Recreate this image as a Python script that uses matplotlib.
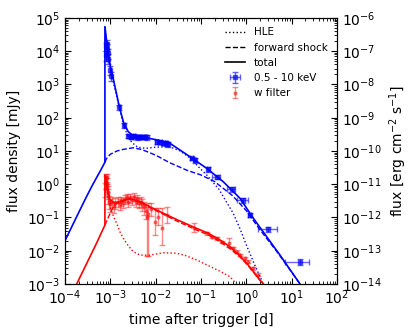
import matplotlib
matplotlib.use("Agg")
import matplotlib.pyplot as plt

# model curves, X-ray (blue)
xt_total = [1e-4, 2e-4, 3e-4, 4e-4, 5e-4, 6e-4, 7.6e-4, 7.6e-4, 8.5e-4, 1e-3, 1.16e-3, 1.58e-3, 2e-3,
            2.49e-3, 3e-3, 4.52e-3, 1e-2, 2.07e-2, 5.73e-2, 0.134, 0.31, 0.727, 1.43, 5.53, 15.3, 20]
xf_total = [0.02, 0.14, 0.43, 0.92, 1.6, 2.5, 4.6, 5.5e4, 1.5e4, 3500, 1500, 215, 65,
            38, 31, 27, 22, 17, 6.7, 3.0, 1.19, 0.378, 0.0946, 0.0074, 1e-3, 5.5e-4]
xt_fs = [7.6e-4, 8.3e-4, 1e-3, 1.4e-3, 1.94e-3, 3.2e-3, 5e-3, 1e-2, 2e-2, 5e-2, 0.1, 0.2, 0.5, 1, 2, 5, 15.3, 20]
xf_fs = [4.6, 6.0, 8.0, 10, 11.2, 12.5, 11, 7.5, 4.5, 2.6, 1.9, 1.2, 0.45, 0.16, 0.043, 0.0085, 1e-3, 6e-4]
xt_hle = [7.6e-4, 8.5e-4, 1e-3, 1.2e-3, 1.6e-3, 2e-3, 2.5e-3, 3e-3, 4e-3, 6e-3, 1e-2, 2e-2, 3.5e-2,
          5.7e-2, 0.1, 0.134, 0.25, 0.51, 0.73, 1.0, 1.5, 2.37, 2.6]
xf_hle = [5.5e4, 1.5e4, 3000, 1000, 190, 55, 26, 18, 13, 12, 13, 13.5, 10,
          6.2, 2.8, 1.9, 0.7, 0.136, 0.045, 0.015, 0.004, 1e-3, 7e-4]

# model curves, optical (red)
ot_total = [1.5e-4, 1.81e-4, 3e-4, 5e-4, 7.6e-4, 7.6e-4, 8.5e-4, 9.8e-4, 1.2e-3, 1.5e-3, 2e-3, 2.7e-3,
            4e-3, 5.3e-3, 8e-3, 1.48e-2, 3e-2, 8e-2, 0.145, 0.25, 0.436, 0.7, 1.02, 1.5, 2, 2.37, 2.6]
of_total = [5.9e-4, 1e-3, 4.1e-3, 0.0172, 0.059, 1.9, 0.8, 0.34, 0.28, 0.29, 0.33, 0.37,
            0.32, 0.27, 0.2, 0.134, 0.085, 0.047, 0.0335, 0.022, 0.0132, 0.0073, 0.0042, 0.0022, 0.0013, 1e-3, 7e-4]
ot_fs = [7.6e-4, 9e-4, 1.05e-3, 1.27e-3, 1.6e-3, 2e-3, 2.7e-3, 5.3e-3, 8e-3, 1.48e-2, 3e-2, 8e-2,
         0.145, 0.25, 0.436, 0.7, 1.02, 1.5, 2, 2.37, 2.6]
of_fs = [0.059, 0.1, 0.16, 0.25, 0.29, 0.31, 0.36, 0.26, 0.19, 0.125, 0.077, 0.042,
         0.030, 0.0195, 0.0115, 0.0068, 0.004, 0.0021, 0.0013, 1e-3, 7e-4]
ot_hle = [7.6e-4, 8.5e-4, 9.8e-4, 1.2e-3, 1.38e-3, 1.63e-3, 2e-3, 2.5e-3, 3.2e-3, 4.5e-3, 7.5e-3,
          1.5e-2, 2.9e-2, 4.5e-2, 8e-2, 0.15, 0.25, 0.436, 0.61, 0.7]
of_hle = [1.9, 0.7, 0.21, 0.1, 0.067, 0.037, 0.022, 0.014, 0.0094, 0.0074, 0.0074,
          0.0087, 0.0084, 0.0072, 0.0053, 0.0035, 0.0025, 0.00166, 0.001, 8e-4]

# XRT data 0.5 - 10 keV
xrt_t = [8.0e-4, 8.2e-4, 8.4e-4, 8.6e-4, 8.8e-4, 9.0e-4, 9.8e-4, 1.03e-3, 1.58e-3, 2.0e-3, 2.5e-3, 2.9e-3,
         3.3e-3, 3.8e-3, 4.4e-3, 4.9e-3, 5.6e-3, 6.3e-3, 1.05e-2, 1.25e-2, 1.47e-2, 1.7e-2, 1.9e-2,
         6.2e-2, 7.3e-2, 0.145, 0.222, 0.475, 0.858, 1.2, 3.05, 15.3]
xrt_f = [7700, 14000, 17000, 12000, 9000, 6000, 2730, 1800, 206, 60, 28, 27,
         28, 26, 27, 27, 27, 26, 19, 19, 18, 17, 16,
         6.0, 5.3, 2.8, 1.69, 0.70, 0.336, 0.12, 0.045, 0.0047]
xrt_ferr = [2500, 4000, 5000, 4000, 3000, 2000, 800, 500, 40, 10, 4, 4,
            4, 4, 4, 4, 4, 4, 2.5, 2.5, 2.5, 2.5, 2.5,
            0.8, 0.8, 0.4, 0.25, 0.1, 0.06, 0.02, 0.008, 0.001]
xrt_tlo = [1.5e-5] * 8 + [5e-5, 1e-4] + [2e-4] * 8 + [1e-3] * 5 + [4e-3, 4e-3, 0.01, 0.05, 0.1, 0.25, 0.1, 1.2, 8.2]
xrt_thi = [1.5e-5] * 8 + [5e-5, 1e-4] + [2e-4] * 8 + [1e-3] * 5 + [4e-3, 4e-3, 0.01, 0.04, 0.1, 0.25, 0.1, 1.6, 9.3]

# UVOT data, w filter
uv_t = [7.8e-4, 8.0e-4, 8.1e-4, 8.3e-4, 8.4e-4, 8.6e-4, 8.8e-4, 9.0e-4, 9.5e-4, 1.0e-3,
        1.1e-3, 1.2e-3, 1.3e-3, 1.45e-3, 1.6e-3, 1.75e-3, 1.9e-3, 2.1e-3, 2.3e-3, 2.5e-3,
        2.75e-3, 3.0e-3, 3.3e-3, 3.6e-3, 3.9e-3, 4.3e-3, 4.7e-3, 5.1e-3, 5.6e-3, 6.0e-3,
        6.3e-3, 6.9e-3, 8.0e-3, 9.7e-3, 1.1e-2, 1.36e-2, 1.75e-2, 7.1e-2, 0.134, 0.172,
        0.222, 0.286, 0.42, 0.516, 0.61, 0.727, 0.935, 1.1, 1.43, 1.84]
uv_f = [0.7, 1.2, 1.6, 1.5, 1.0, 0.8, 0.6, 0.45, 0.3, 0.25,
        0.3, 0.22, 0.28, 0.3, 0.26, 0.32, 0.28, 0.35, 0.4, 0.3,
        0.38, 0.33, 0.42, 0.3, 0.36, 0.28, 0.3, 0.25, 0.2, 0.16,
        0.106, 0.13, 0.18, 0.075, 0.1, 0.047, 0.119, 0.05, 0.0335, 0.0265,
        0.0237, 0.0187, 0.0175, 0.0119, 0.0094, 0.0074, 0.0059, 0.0047, 0.003, 0.0019]
uv_lo = [0.3, 0.5, 0.6, 0.5, 0.4, 0.3, 0.25, 0.2, 0.12, 0.1,
         0.1, 0.08, 0.1, 0.1, 0.09, 0.1, 0.09, 0.1, 0.1, 0.09,
         0.1, 0.1, 0.1, 0.09, 0.1, 0.09, 0.1, 0.09, 0.08, 0.07,
         0.099, 0.123, 0.07, 0.045, 0.04, 0.032, 0.052, 0.013, 0.003, 0.002,
         0.002, 0.0015, 0.0043, 0.001, 0.0008, 0.0006, 0.0005, 0.0004, 0.0003, 0.0002]
uv_hi = [0.4, 0.6, 0.4, 0.5, 0.5, 0.4, 0.3, 0.25, 0.15, 0.1,
         0.1, 0.08, 0.1, 0.1, 0.1, 0.1, 0.1, 0.12, 0.12, 0.1,
         0.12, 0.1, 0.12, 0.1, 0.1, 0.1, 0.1, 0.1, 0.1, 0.08,
         0.104, 0.137, 0.1, 0.115, 0.09, 0.143, 0.09, 0.02, 0.003, 0.002,
         0.002, 0.0015, 0.0062, 0.001, 0.0008, 0.0006, 0.0005, 0.0004, 0.0003, 0.0002]

fig = plt.figure(figsize=(4.15, 3.32), dpi=100)
ax = fig.add_axes([0.1566, 0.1446, 0.6554, 0.8012])

ax.plot(xt_hle, xf_hle, 'b:', lw=1)
ax.plot(xt_fs, xf_fs, 'b--', lw=1)
ax.plot(xt_total, xf_total, 'b-', lw=1.2)
ax.plot(ot_hle, of_hle, 'r:', lw=1)
ax.plot(ot_fs, of_fs, 'r--', lw=1)
ax.plot(ot_total, of_total, 'r-', lw=1.2)

# black proxies for legend
ax.plot([], [], 'k:', lw=1, label='HLE')
ax.plot([], [], 'k--', lw=1, label='forward shock')
ax.plot([], [], 'k-', lw=1.2, label='total')

ax.errorbar(xrt_t, xrt_f, yerr=xrt_ferr, xerr=[xrt_tlo, xrt_thi], fmt='s', color='b',
            ms=2.5, capsize=2, elinewidth=1, alpha=0.6, label='0.5 - 10 keV')
ax.errorbar(uv_t, uv_f, yerr=[uv_lo, uv_hi], fmt='o', color='r',
            ms=2, capsize=2.5, elinewidth=1, alpha=0.45, label='w filter')

ax.set_xscale('log')
ax.set_yscale('log')
ax.set_xlim(1e-4, 1e2)
ax.set_ylim(1e-3, 1e5)
ax.set_xlabel('time after trigger [d]', fontsize=10)
ax.set_ylabel('flux density [mJy]', fontsize=10)
ax.tick_params(which='both', direction='in', top=True, right=False, labelsize=10)
ax.tick_params(which='major', length=4)
ax.tick_params(which='minor', length=2)
ax.legend(loc='upper right', frameon=False, fontsize=7.5, numpoints=1,
          handlelength=2.0, labelspacing=0.5)

ax2 = ax.twinx()
ax2.set_yscale('log')
ax2.set_ylim(1e-14, 1e-6)
ax2.set_ylabel('flux [erg cm$^{-2}$ s$^{-1}$]', fontsize=10)
ax2.tick_params(which='both', direction='in', labelsize=10)
ax2.tick_params(which='major', length=4)
ax2.tick_params(which='minor', length=2)

fig.savefig('out.png', dpi=100)
